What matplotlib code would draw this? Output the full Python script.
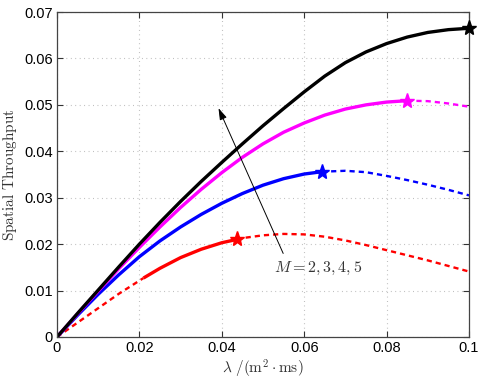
import matplotlib
matplotlib.use('Agg')
import matplotlib.pyplot as plt

plt.rcParams['mathtext.fontset'] = 'cm'
plt.rcParams['font.family'] = ['Liberation Sans', 'DejaVu Sans']

# ---------------------------------------------------------------------------- #
#                                     Data                                     #
# ---------------------------------------------------------------------------- #
# lambda values and spatial throughput, one curve per M
lam_m5 = [0, 0.005, 0.01, 0.015, 0.02, 0.025, 0.03, 0.035, 0.04, 0.045, 0.05,
          0.055, 0.06, 0.065, 0.07, 0.075, 0.08, 0.085, 0.09, 0.095, 0.1]
tp_m5 = [0, 0.0051, 0.0101, 0.0151, 0.0200, 0.0247, 0.0292, 0.0335, 0.0376,
         0.0416, 0.0455, 0.0492, 0.0528, 0.0562, 0.0591, 0.0614, 0.0632,
         0.0646, 0.0656, 0.0662, 0.0665]

lam_m4 = [0, 0.005, 0.01, 0.015, 0.02, 0.025, 0.03, 0.035, 0.04, 0.045, 0.05,
          0.055, 0.06, 0.065, 0.07, 0.075, 0.08, 0.085, 0.09, 0.095, 0.1]
tp_m4 = [0, 0.0050, 0.0099, 0.0147, 0.0193, 0.0237, 0.0279, 0.0318, 0.0354,
         0.0387, 0.0416, 0.0441, 0.0461, 0.0478, 0.0491, 0.0500, 0.0506,
         0.0509, 0.0508, 0.0503, 0.0496]

lam_m3 = [0, 0.005, 0.01, 0.015, 0.02, 0.025, 0.03, 0.035, 0.04, 0.045, 0.05,
          0.055, 0.06, 0.0643, 0.07, 0.075, 0.08, 0.085, 0.09, 0.095, 0.1]
tp_m3 = [0, 0.0047, 0.0092, 0.0134, 0.0173, 0.0207, 0.0237, 0.0264, 0.0288,
         0.0309, 0.0327, 0.0341, 0.0351, 0.0356, 0.0358, 0.0355, 0.0347,
         0.0338, 0.0328, 0.0317, 0.0305]

lam_m2 = [0, 0.005, 0.01, 0.015, 0.021, 0.025, 0.03, 0.035, 0.04, 0.0436,
          0.045, 0.05, 0.055, 0.06, 0.065, 0.07, 0.075, 0.08, 0.085, 0.09,
          0.095, 0.1]
tp_m2 = [0, 0.0031, 0.0062, 0.0093, 0.0127, 0.0148, 0.0171, 0.0189, 0.0203,
         0.0210, 0.0213, 0.0219, 0.0222, 0.0221, 0.0216, 0.0208, 0.0198,
         0.0187, 0.0176, 0.0165, 0.0153, 0.0141]

# range of the solid (feasible) part; its right end carries the star
solid_m5 = (0, 0.1)
solid_m4 = (0, 0.085)
solid_m3 = (0, 0.0643)
solid_m2 = (0.021, 0.0436)

xticks = [0, 0.02, 0.04, 0.06, 0.08, 0.1]
yticks = [0, 0.01, 0.02, 0.03, 0.04, 0.05, 0.06, 0.07]
xticklabels = ['0', '0.02', '0.04', '0.06', '0.08', '0.1']
yticklabels = ['0', '0.01', '0.02', '0.03', '0.04', '0.05', '0.06', '0.07']


def draw_curve(ax, lam, tp, solid, color):
    lo, hi = solid
    pts = list(zip(lam, tp))
    left = [p for p in pts if p[0] <= lo]
    right = [p for p in pts if p[0] >= hi]
    mid = [p for p in pts if lo <= p[0] <= hi]
    for part in (left, right):
        if len(part) > 1:
            ax.plot([p[0] for p in part], [p[1] for p in part], color=color,
                    lw=1.7, dashes=(2.2, 1.7), dash_joinstyle='round')
    ax.plot([p[0] for p in mid], [p[1] for p in mid], '-', color=color,
            lw=2.4, solid_joinstyle='round', solid_capstyle='butt')
    star = lam.index(hi)
    ax.plot(lam[star], tp[star], '*', color=color, ms=11, clip_on=False,
            zorder=5)


fig = plt.figure(figsize=(4.85, 3.85), dpi=100)
ax = fig.add_axes([0.1175, 0.1247, 0.967 - 0.1175, 0.9688 - 0.1247])

draw_curve(ax, lam_m2, tp_m2, solid_m2, '#ff0000')
draw_curve(ax, lam_m3, tp_m3, solid_m3, '#0000ff')
draw_curve(ax, lam_m4, tp_m4, solid_m4, '#ff00ff')
draw_curve(ax, lam_m5, tp_m5, solid_m5, '#000000')

ax.set_xlim(0, 0.1)
ax.set_ylim(0, 0.07)
ax.set_xticks(xticks)
ax.set_yticks(yticks)
ax.set_xticklabels(xticklabels)
ax.set_yticklabels(yticklabels)
ax.tick_params(direction='in', top=True, right=True, length=4, width=0.8,
               labelsize=10.5, color='#333333', pad=3)
for s in ax.spines.values():
    s.set_color('#444444')
    s.set_linewidth(0.9)
ax.grid(True, color='#b8b8b8', lw=0.8, dashes=(0.8, 3.2))
ax.set_axisbelow(True)

ax.set_xlabel(r'$\lambda\ /(\mathrm{m}^2\cdot\mathrm{ms})$', fontsize=11,
              color='#333333', labelpad=2)
ax.set_ylabel(r'$\mathrm{Spatial\ Throughput}$', fontsize=11,
              color='#333333', labelpad=4)

ax.annotate('', xy=(0.0392, 0.0493), xytext=(0.0549, 0.0180),
            arrowprops=dict(arrowstyle='-|>,head_length=0.7,head_width=0.22',
                            lw=0.7, color='k', shrinkA=0, shrinkB=0))
ax.text(0.0527, 0.0148, r'$M=2,3,4,5$', fontsize=11.5, color='#333333',
        va='center', ha='left')

fig.savefig('out.png', dpi=100)
